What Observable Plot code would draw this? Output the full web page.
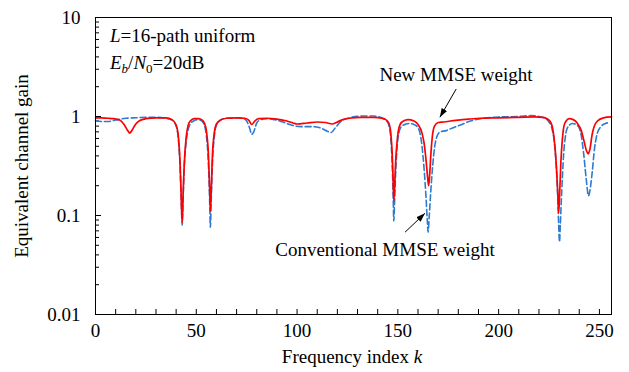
<!DOCTYPE html>
<html><head><meta charset="utf-8">
<script src="https://cdn.jsdelivr.net/npm/d3@7"></script>
<script src="https://cdn.jsdelivr.net/npm/@observablehq/plot@0.6"></script>
<style>body{margin:0;background:#fff}</style>
</head><body><div id="chart"></div>
<script>
// New MMSE weight (red solid)
const kNew = [0,3,6,9,12,14,16,17,18,20,22,25,30,35,38,40,41,42,42.5,43,43.5,44,45,46,47,49,51,53,54,55,56,56.6,57,57.5,58,59,60,62,65,70,74,76,77.5,79,81,85,90,95,98,100,105,110,114,117.5,119.5,122,126,132,138,142,144,145.5,146.5,147.2,147.7,148,148.4,149,149.6,150.5,152,155,158,160,162,163,164,164.8,165.3,165.8,166.4,167.2,168.2,170,173,176,180,185,191,200,210,218,222,224,226,227,228,228.8,229.4,229.8,230.3,230.9,231.6,232.4,233.5,235,237,239,241,242.5,243.6,244.5,245.4,246.4,247.5,249,252,256];
const gainNew = [0.97,0.97,0.96,0.95,0.92,0.84,0.72,0.68,0.72,0.84,0.91,0.95,0.97,0.97,0.93,0.82,0.66,0.32,0.16,0.085,0.17,0.32,0.62,0.82,0.9,0.95,0.95,0.92,0.86,0.72,0.42,0.2,0.11,0.2,0.4,0.7,0.84,0.92,0.96,0.97,0.96,0.92,0.83,0.9,0.95,0.96,0.94,0.9,0.86,0.84,0.86,0.88,0.87,0.84,0.87,0.92,0.96,0.98,0.98,0.96,0.93,0.86,0.68,0.42,0.22,0.14,0.2,0.38,0.55,0.76,0.88,0.93,0.9,0.83,0.68,0.54,0.36,0.24,0.2,0.26,0.42,0.65,0.8,0.87,0.88,0.9,0.92,0.94,0.96,0.97,0.98,0.99,0.98,0.95,0.86,0.72,0.48,0.28,0.16,0.105,0.17,0.35,0.58,0.8,0.9,0.95,0.93,0.86,0.72,0.55,0.45,0.42,0.48,0.66,0.8,0.9,0.97,0.99];
// Conventional MMSE weight (blue dashed)
const kConv = [0,3,6,10,15,20,25,30,35,38,40,41,42,42.5,43,43.5,44,45,46,47,49,51,53,54,55,56,56.6,57,57.4,58,59,60,62,65,70,73,75,76.5,77.5,78.5,80,82,85,90,95,98,102,108,112,115,117,119,122,126,132,138,142,144,145.5,146.5,147.2,147.7,148,148.4,149,149.6,150.5,152,155.5,158,160,161,162,163,164,164.6,165,165.6,166.3,167.3,168.3,169.3,171,174,176,181,186,191,200,210,216,220,223,225,226.5,227.6,228.5,229.3,229.8,230.2,230.6,231.1,231.7,232.3,233,234,236.5,238,239.8,241,242.2,243.4,244.6,245.5,246.4,247.5,248.5,250.5,253,255];
const gainConv = [0.91,0.89,0.89,0.92,0.96,0.97,0.98,0.98,0.96,0.92,0.8,0.62,0.3,0.15,0.08,0.16,0.3,0.56,0.74,0.84,0.91,0.93,0.89,0.82,0.64,0.34,0.15,0.076,0.14,0.33,0.64,0.82,0.92,0.96,0.97,0.96,0.9,0.76,0.66,0.7,0.86,0.93,0.95,0.92,0.85,0.81,0.79,0.79,0.76,0.71,0.69,0.77,0.9,0.97,1.01,1.01,0.97,0.92,0.82,0.6,0.33,0.15,0.088,0.14,0.3,0.48,0.68,0.8,0.85,0.83,0.77,0.68,0.5,0.3,0.15,0.09,0.068,0.1,0.17,0.32,0.5,0.62,0.7,0.72,0.75,0.82,0.9,0.95,0.99,1.0,1.02,1.0,0.96,0.88,0.75,0.56,0.34,0.16,0.08,0.054,0.08,0.14,0.26,0.43,0.6,0.76,0.85,0.84,0.78,0.64,0.42,0.24,0.158,0.19,0.27,0.46,0.62,0.78,0.85,0.87];

const xTickLabels = [0,50,100,150,200,250];
const xMinorTicks = d3.range(0,251,10);
const yTickLabels = [0.01,0.1,1,10];
const yMinorTicks = [0.01,0.1,1].flatMap(b => d3.range(2,10).map(m => +(b*m).toPrecision(2)));

const seriesNew = kNew.map((k,i) => ({k, g: gainNew[i]}));
const seriesConv = kConv.map((k,i) => ({k, g: gainConv[i]}));

const W = 629, H = 372, mL = 95, mR = 18, mT = 17, mB = 58;
const plotW = W - mL - mR, plotH = H - mT - mB;
const FONT = "'Liberation Serif', 'Times New Roman', serif";
const FS = 19;

const chart = Plot.plot({
  width: W, height: H,
  marginLeft: mL, marginRight: mR, marginTop: mT, marginBottom: mB,
  style: {fontFamily: FONT, fontSize: FS + "px", background: "#fff", color: "#000"},
  x: {domain: [0, 256]},
  y: {type: "log", domain: [0.01, 10]},
  marks: [
    Plot.ruleY(yMinorTicks, {insetRight: plotW - 4, stroke: "#000"}),
    Plot.ruleY(yTickLabels, {insetRight: plotW - 6, stroke: "#000"}),
    Plot.ruleX(xMinorTicks, {insetTop: plotH - 5, stroke: "#000"}),
    Plot.axisX({ticks: xTickLabels, tickSize: 0, tickPadding: 9, label: null, tickFormat: d => String(d), fontSize: FS, fontFamily: FONT}),
    Plot.axisY({ticks: yTickLabels, tickSize: 0, tickPadding: 15, label: null, tickFormat: d => String(d), fontSize: FS, fontFamily: FONT}),
    Plot.line(seriesConv, {x: "k", y: "g", stroke: "#2b7bd0", strokeWidth: 1.6, strokeDasharray: "6,3", curve: "monotone-x"}),
    Plot.line(seriesNew, {x: "k", y: "g", stroke: "#ff0000", strokeWidth: 1.7, curve: "monotone-x"}),
    Plot.frame({stroke: "#000"})
  ]
});
document.getElementById("chart").appendChild(chart);

const svg = d3.select(chart);
const xs = chart.scale("x"), ys = chart.scale("y");

// arrow marker
const defs = svg.append("defs");
defs.append("marker").attr("id","ah").attr("viewBox","0 0 10 10")
  .attr("refX",10).attr("refY",5).attr("markerWidth",9).attr("markerHeight",9)
  .attr("markerUnits","userSpaceOnUse").attr("orient","auto")
  .append("path").attr("d","M0,1.5L10,5L0,8.5z").attr("fill","#000");

const arrows = [
  {x1: 179.2, y1: 1.875, x2: 171.1, y2: 0.97},
  {x1: 153.8, y1: 0.067, x2: 163.7, y2: 0.104}
];
arrows.forEach(a => {
  svg.append("line")
    .attr("x1", xs.apply(a.x1)).attr("y1", ys.apply(a.y1))
    .attr("x2", xs.apply(a.x2)).attr("y2", ys.apply(a.y2))
    .attr("stroke","#000").attr("stroke-width",1).attr("marker-end","url(#ah)");
});

const txt = (x, y, anchor) => svg.append("text").attr("x", x).attr("y", y)
  .attr("text-anchor", anchor).attr("font-family", FONT).attr("font-size", FS).attr("fill", "#000");

// L=16-path uniform
let t = txt(110, 42, "start");
t.append("tspan").attr("font-style","italic").text("L");
t.append("tspan").text("=16-path uniform");
// Eb/N0=20dB
t = txt(110, 69, "start");
t.append("tspan").attr("font-style","italic").text("E");
t.append("tspan").attr("font-style","italic").attr("font-size",13).attr("dy",4).text("b");
t.append("tspan").attr("dy",-4).text("/");
t.append("tspan").attr("font-style","italic").text("N");
t.append("tspan").attr("font-size",13).attr("dy",4).text("0");
t.append("tspan").attr("dy",-4).text("=20dB");

txt(456, 81, "middle").text("New MMSE weight");
txt(385, 256, "middle").text("Conventional MMSE weight");

// axis titles
t = txt(352, 363, "middle");
t.append("tspan").text("Frequency index ");
t.append("tspan").attr("font-style","italic").text("k");

svg.append("text").attr("transform","translate(28,166) rotate(-90)")
  .attr("text-anchor","middle").attr("font-family",FONT).attr("font-size",FS).attr("fill","#000")
  .text("Equivalent channel gain");
</script>
</body></html>
